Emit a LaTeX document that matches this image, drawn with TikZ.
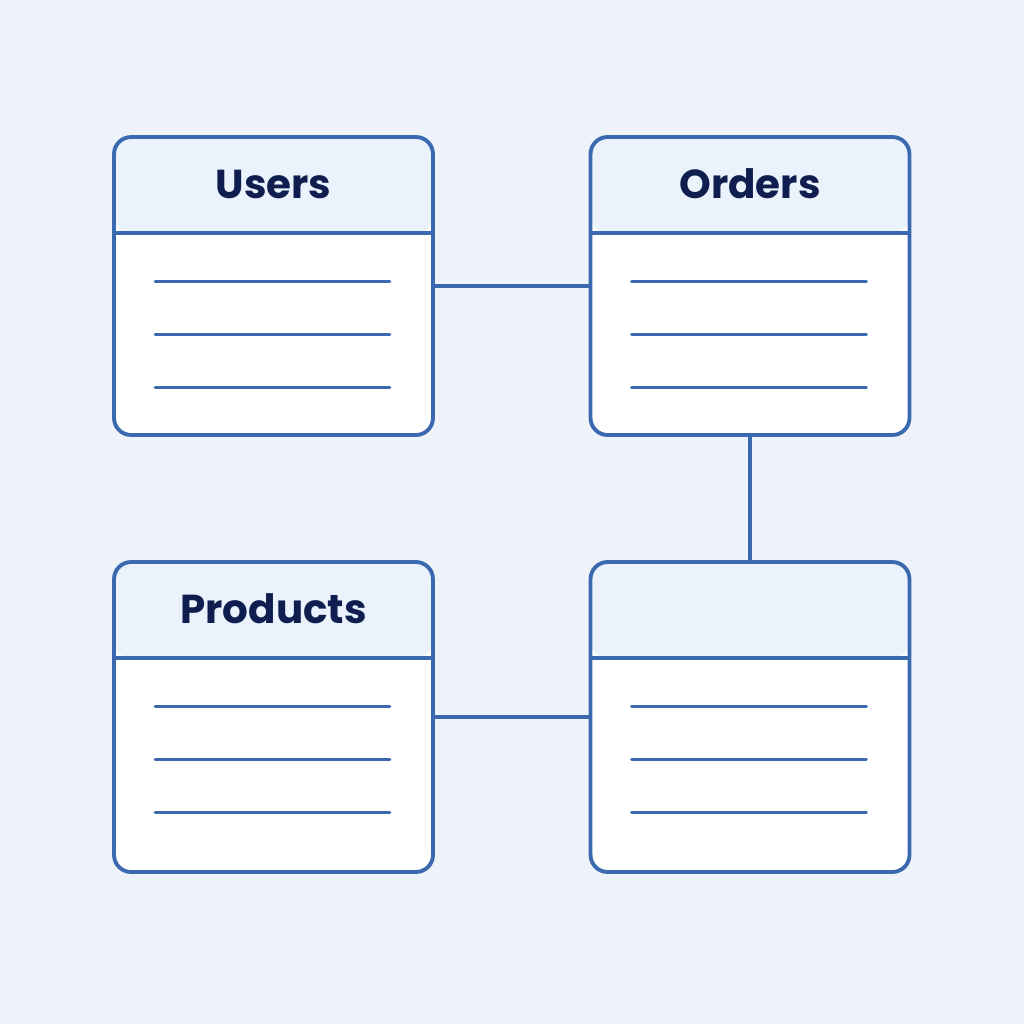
\documentclass[tikz,border=0pt]{standalone}
\usepackage{fontspec}
\setmainfont{Poppins}
\definecolor{tableblue}{HTML}{3B69AF}
\definecolor{headfill}{HTML}{EAF3FC}
\definecolor{bgblue}{HTML}{EEF3FA}
\definecolor{titlenavy}{HTML}{0F1D4F}
\begin{document}
\begin{tikzpicture}[x=0.02cm,y=-0.02cm,line join=round,line cap=round,
  tablebox/.style={draw=tableblue,line width=2.2pt,fill=white,rounded corners=0.34cm,
    minimum width=6.38cm,inner sep=0pt,
    path picture={
      \fill[headfill] (path picture bounding box.north west) rectangle ([yshift=-1.92cm]path picture bounding box.north east);
      \draw[tableblue,line width=2pt] ([yshift=-1.92cm]path picture bounding box.north west) -- ([yshift=-1.92cm]path picture bounding box.north east);}},
  toptable/.style={tablebox,minimum height=5.96cm},
  lowtable/.style={tablebox,minimum height=6.2cm},
  tabletitle/.style={text=titlenavy,font=\bfseries\fontsize{23}{26}\selectfont},
  rowline/.style={tableblue,line width=1.7pt},
  link/.style={tableblue,line width=1.8pt}]

	% Nền
	\fill[bgblue] (0,0) rectangle (1024,1024);

	% Các bảng
	\node[toptable] (users) at (273.5,286) {};
	\node[toptable] (orders) at (750,286) {};
	\node[lowtable] (products) at (273.5,717) {};
	\node[lowtable] (items) at (750,717) {};

	% Tên bảng
	\node[tabletitle] (users-title) at ([yshift=-0.98cm]users.north) {Users};
	\node[tabletitle] (orders-title) at ([yshift=-0.98cm]orders.north) {Orders};
	\node[tabletitle] (products-title) at ([yshift=-0.98cm]products.north) {Products};

	% Các dòng trong bảng
	\foreach \t in {users,orders,products,items}
		\foreach \r in {146,199,252}
			\draw[rowline] ([xshift=0.86cm,yshift=-\r*0.02cm]\t.north west) -- ([xshift=-0.9cm,yshift=-\r*0.02cm]\t.north east);

	% Liên kết
	\draw[link] (users) -- (orders);
	\draw[link] (orders) -- (items);
	\draw[link] (products) -- (items);

\end{tikzpicture}
\end{document}
